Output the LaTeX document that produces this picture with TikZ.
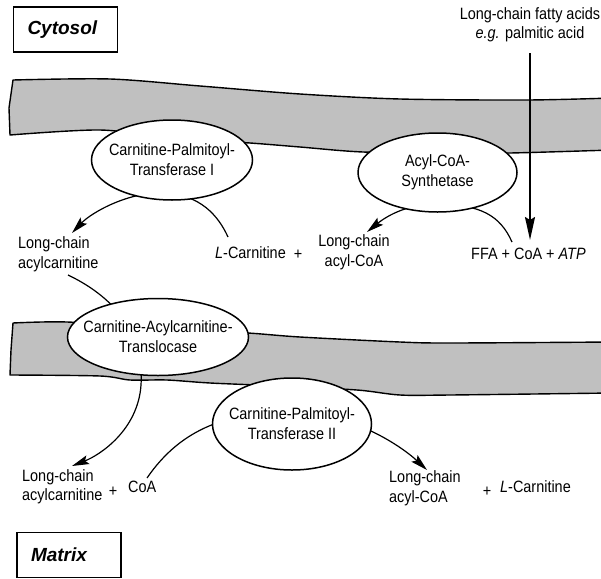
\documentclass[tikz,border=0pt]{standalone}
\usepackage{fontspec}
\setmainfont{Liberation Sans}[FakeStretch=0.88]
\newfontfamily\tagfont{Liberation Sans}
\usetikzlibrary{arrows.meta,shapes.geometric}
\definecolor{membranegray}{RGB}{192,192,192}
\tikzset{
  membrane/.style={draw, line width=1.4pt, fill=membranegray, line join=round},
  enzyme/.style={ellipse, draw, fill=white, line width=1.5pt, inner xsep=-12pt, inner ysep=0pt,
    font=\fontsize{16.4}{20}\selectfont, align=center},
  metab/.style={inner sep=0pt, font=\fontsize{16.4}{19.5}\selectfont},
  flux/.style={line width=1.2pt, -{Stealth[length=17pt,width=9pt,inset=3pt]}},
  influx/.style={line width=2pt, -{Stealth[length=23pt,width=10pt,inset=3pt]}},
  compart/.style={draw, line width=1.5pt, minimum height=45pt, text width=76pt, inner xsep=14pt,
    align=left, font=\tagfont\bfseries\itshape\fontsize{19}{22}\selectfont}
}
\begin{document}
\begin{tikzpicture}[x=1pt,y=-1pt]
\useasboundingbox (0,0) rectangle (601,578);
\clip (0,0) rectangle (601,578);

% outer membrane
\draw[membrane] plot[smooth,tension=.5] coordinates {(13,80) (110,79) (200,86) (300,94) (400,99) (527,100) (612,98)}
  -- (612,150) -- plot[smooth,tension=.5] coordinates {(612,150) (510,153) (450,153) (363,152) (300,147) (250,143) (172,138) (100,130) (10,135)}
  -- (9,108) -- cycle;
% inner membrane
\draw[membrane] plot[smooth,tension=.5] coordinates {(13,323) (67,322) (160,328) (248,333) (300,337) (400,342) (450,343) (612,342)}
  -- (612,393) -- plot[smooth,tension=.5] coordinates {(612,393) (450,395) (400,395) (357,390) (280,386) (210,383) (167,380) (130,380) (100,376) (10,375)}
  -- (11,350) -- cycle;

% compartments
\node[compart] (cytosol) at (65.5,29.5) {Cytosol};
\node[compart] (matrix) at (69,555) {Matrix};

% metabolites
\node[metab, align=center] (fatty) at (530,25) {Long-chain fatty acids\\\textit{e.g.} palmitic acid};
\node[metab, align=left, anchor=west] (acylc1) at (18,254.5) {Long-chain\\acylcarnitine};
\node[metab, anchor=west] (lcarn1) at (215,253) {\textit{L}-Carnitine};
\node[metab] (plus1) at (298,255) {+};
\node[metab, align=center] (acoa1) at (354,252.5) {Long-chain\\acyl-CoA};
\node[metab, anchor=west] (ffa) at (471,254) {FFA + CoA + \textit{ATP}};
\node[metab, align=left, anchor=west] (acylc2) at (22,487) {Long-chain\\acylcarnitine};
\node[metab] (plus2) at (113,492) {+};
\node[metab, anchor=west] (coa) at (128,487) {CoA};
\node[metab, align=left, anchor=west] (acoa2) at (389,488.5) {Long-chain\\acyl-CoA};
\node[metab] (plus3) at (487,492) {+};
\node[metab, anchor=west] (lcarn2) at (500,487) {\textit{L}-Carnitine};

% ends of the reaction arcs
\coordinate (cptIin) at (228,237);
\coordinate (cptIout) at (72,233);
\coordinate (acsin) at (512,242);
\coordinate (acsout) at (367,232);
\coordinate (transin) at (68,275);
\coordinate (transout) at (72,466);
\coordinate (cptIIin) at (147,478);
\coordinate (cptIIout) at (427,470);
\coordinate (ffatop) at (530,53);
\coordinate (ffatip) at (530,240);

\draw[flux] (cptIin) .. controls (218,215) and (200,195) .. (165,193) .. controls (130,191) and (92,212) .. (cptIout);
\draw[flux] (acsin) .. controls (500,215) and (480,205) .. (440,204) .. controls (410,203) and (388,215) .. (acsout);
\draw[flux] (transin) .. controls (110,295) and (145,330) .. (141,385) .. controls (138,430) and (100,455) .. (transout);
\draw[flux] (cptIIin) .. controls (182,427) and (230,412) .. (292,412) .. controls (350,412) and (400,445) .. (cptIIout);

% enzymes
\node[enzyme, minimum width=161pt, minimum height=80pt] (cptI) at (172,160) {Carnitine-Palmitoyl-\\Transferase I};
\node[enzyme, minimum width=159pt, minimum height=79pt] (acs) at (437.5,172.5) {Acyl-CoA-\\Synthetase};
\node[enzyme, minimum width=181pt, minimum height=77pt] (transl) at (158,337) {Carnitine-Acylcarnitine-\\Translocase};
\node[enzyme, minimum width=159pt, minimum height=92pt] (cptII) at (292,424) {Carnitine-Palmitoyl-\\Transferase II};

\draw[influx] (ffatop) -- (ffatip);
\end{tikzpicture}
\end{document}
